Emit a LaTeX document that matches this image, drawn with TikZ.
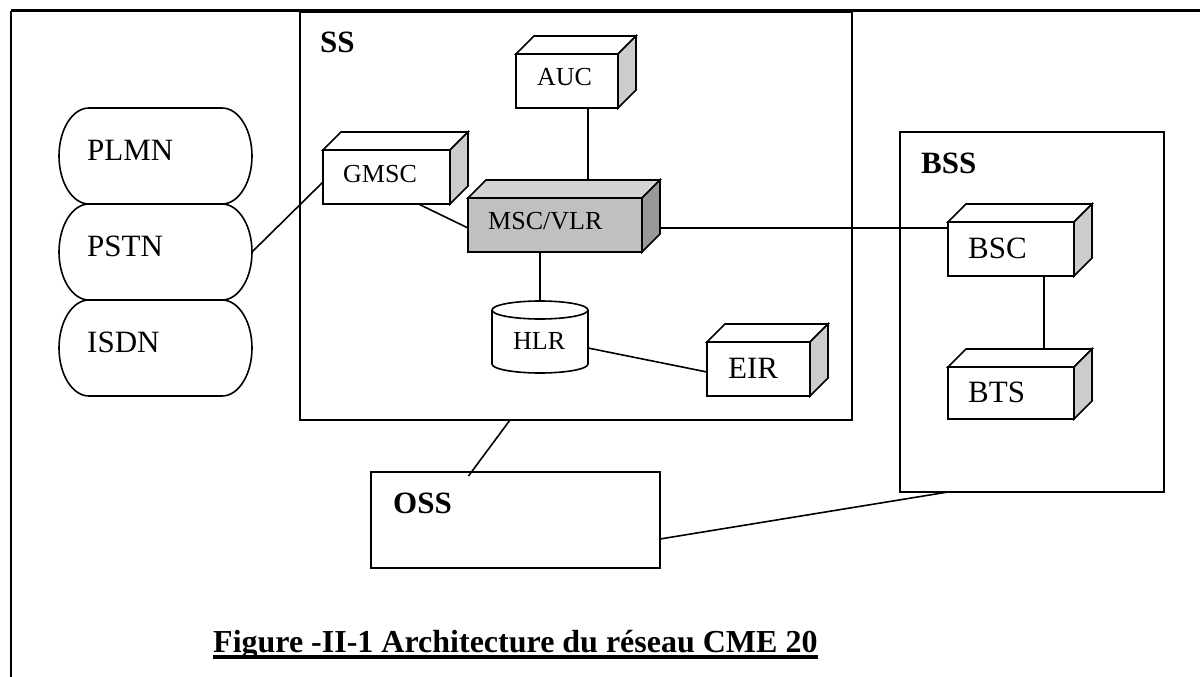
\documentclass[tikz,border=0pt]{standalone}
\usepackage{fontspec}
\setmainfont{Liberation Serif}
\usetikzlibrary{calc}
\definecolor{sidegray}{RGB}{204,204,204}
\definecolor{mscfront}{RGB}{192,192,192}
\definecolor{msctopc}{RGB}{212,212,212}
\definecolor{mscside}{RGB}{153,153,153}
\tikzset{
  edge/.style={line width=1.6pt, line join=miter},
  wire/.style={line width=1.6pt},
  face/.style={draw, line width=1.6pt, fill=white, inner sep=0pt, outer sep=0pt, anchor=north west},
  ghost/.style={inner sep=0pt, outer sep=0pt, anchor=north west},
  smalltxt/.style={inner sep=0pt, anchor=base west, font=\fontsize{26}{30}\selectfont},
  bigtxt/.style={inner sep=0pt, anchor=base west, font=\fontsize{31}{36}\selectfont},
  boldtxt/.style={inner sep=0pt, anchor=base west, font=\fontsize{31}{36}\selectfont\bfseries},
  titletxt/.style={inner sep=0pt, anchor=base west, font=\fontsize{32}{36}\selectfont\bfseries},
}
\newcommand\cubefaces[4]{%
  \draw[edge,fill=#3] (#1.north west) -- ++(#2,-#2) -- ([shift={(#2,-#2)}]#1.north east) -- (#1.north east) -- cycle;
  \draw[edge,fill=#4] (#1.north east) -- ([shift={(#2,-#2)}]#1.north east) -- ([shift={(#2,-#2)}]#1.south east) -- (#1.south east) -- cycle;
  \coordinate (#1-top) at ([shift={(#2,-#2)}]#1.north west);
}
\newcommand\stadiumpath[1]{%
  \draw[edge] ([xshift=30pt]#1.north west) -- ([xshift=-30pt]#1.north east)
    arc[start angle=90,end angle=-90,x radius=30pt,y radius=48pt]
    -- ([xshift=30pt]#1.south west)
    arc[start angle=270,end angle=90,x radius=30pt,y radius=48pt] -- cycle;
}
\begin{document}
\begin{tikzpicture}[x=1pt,y=-1pt]
\useasboundingbox (0,0) rectangle (1200,677);
% outer frame
\coordinate (frameTL) at (11,11);
\coordinate (frameTR) at (1200,11);
\coordinate (frameBL) at (11,677);
\draw[line width=3pt] (frameTL) -- (frameTR);
\draw[line width=2pt] (frameTL) -- (frameBL);

% subsystems
\node[face, minimum width=552pt, minimum height=408pt] (ss) at (300,12) {};
\node[boldtxt] (sslbl) at (320,53) {SS};
\node[face, minimum width=264pt, minimum height=360pt] (bss) at (900,132) {};
\node[boldtxt] (bsslbl) at (921,173) {BSS};
\node[face, minimum width=289pt, minimum height=96pt] (oss) at (371,472) {};
\node[boldtxt] (osslbl) at (393,513) {OSS};

% networks
\node[ghost, minimum width=193pt, minimum height=96pt] (plmn) at (59,108) {};
\node[ghost, minimum width=193pt, minimum height=96pt] (pstn) at (59,204) {};
\node[ghost, minimum width=193pt, minimum height=96pt] (isdn) at (59,300) {};
\stadiumpath{plmn}
\stadiumpath{pstn}
\stadiumpath{isdn}
\node[bigtxt] (plmnt) at (87,160) {PLMN};
\node[bigtxt] (pstnt) at (87,256) {PSTN};
\node[bigtxt] (isdnt) at (87,352) {ISDN};

% 3D boxes
\node[face, minimum width=127pt, minimum height=54pt] (gmsc) at (323,150) {};
\cubefaces{gmsc}{18}{white}{sidegray}
\node[smalltxt] (gmsct) at (343,182) {GMSC};

\node[face, minimum width=102pt, minimum height=54pt] (auc) at (516,54) {};
\cubefaces{auc}{18}{white}{sidegray}
\node[smalltxt] (auct) at (537,85) {AUC};

\node[face, fill=mscfront, minimum width=174pt, minimum height=54pt] (msc) at (468,198) {};
\cubefaces{msc}{18}{msctopc}{mscside}
\node[smalltxt] (msct) at (488,229) {MSC/VLR};

\node[face, minimum width=103pt, minimum height=54pt] (eir) at (707,342) {};
\cubefaces{eir}{18}{white}{sidegray}
\node[bigtxt] (eirt) at (728,378) {EIR};

\node[face, minimum width=126pt, minimum height=54pt] (bsc) at (948,222) {};
\cubefaces{bsc}{18}{white}{sidegray}
\node[bigtxt] (bsct) at (968,258) {BSC};

\node[face, minimum width=126pt, minimum height=52pt] (bts) at (948,367) {};
\cubefaces{bts}{18}{white}{sidegray}
\node[bigtxt] (btst) at (968,402) {BTS};

% HLR cylinder
\node[ghost, minimum width=96pt, minimum height=72pt] (hlr) at (492,301) {};
\draw[edge, fill=white] ([yshift=-9pt]hlr.north west) -- ([yshift=9pt]hlr.south west)
  arc[start angle=180,end angle=360,x radius=48pt,y radius=9pt]
  -- ([yshift=-9pt]hlr.north east);
\draw[edge, fill=white] ([yshift=-9pt]hlr.north) ellipse[x radius=48pt, y radius=9pt];
\node[smalltxt] (hlrt) at (513,349) {HLR};

% connectors
\draw[wire] (pstn.east) -- ([yshift=-5pt]gmsc.west);
\draw[wire] ([xshift=32pt]gmsc.south) -- ([yshift=-3pt]msc.west);
\draw[wire] ([xshift=21pt]auc.south) -- ([xshift=21pt]auc.south |- msc-top);
\coordinate (mscright) at ([shift={(18pt,-3pt)}]msc.east);
\draw[wire] (mscright) -- (mscright -| bsc.west);
\draw[wire] (msc.south -| hlr.north) -- (hlr.north);
\draw[wire] ([yshift=-11pt]hlr.east) -- ([yshift=-3pt]eir.west);
\draw[wire] ([xshift=33pt]bsc.south) -- ([xshift=33pt]bsc.south |- bts-top);
\draw[wire] ([xshift=-66pt]ss.south) -- ([shift={(-47pt,-4pt)}]oss.north);
\draw[wire] ([yshift=-19pt]oss.east) -- ([xshift=-84pt]bss.south);

% title
\node[titletxt] (title) at (213,652) {Figure -II-1 Architecture du réseau CME 20};
\draw[line width=3.5pt] ([yshift=-5pt]title.base west) -- ([yshift=-5pt]title.base east);
\end{tikzpicture}
\end{document}
